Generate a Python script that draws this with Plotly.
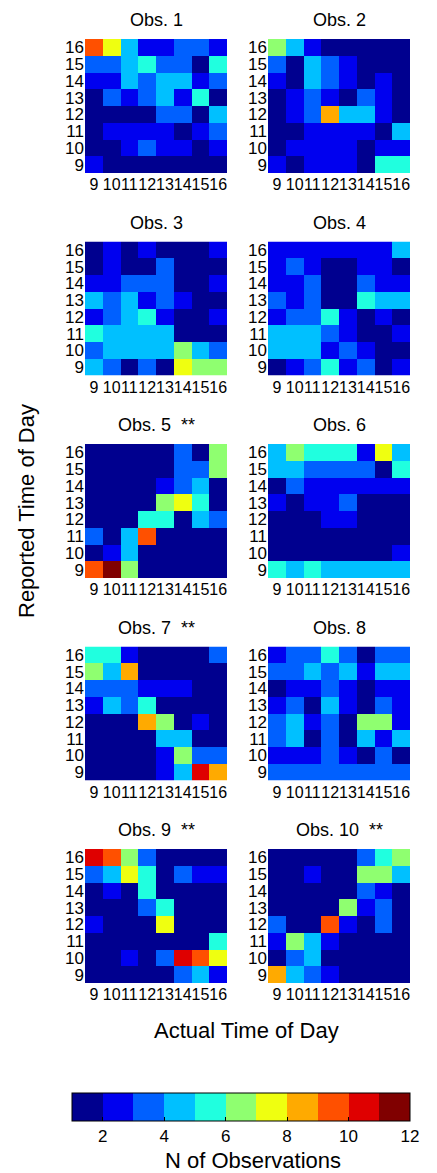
import numpy as np
import plotly.graph_objects as go

hours = [9, 10, 11, 12, 13, 14, 15, 16]
rows_top_down = [16, 15, 14, 13, 12, 11, 10, 9]
titles = ["Obs. 1", "Obs. 2", "Obs. 3", "Obs. 4", "Obs. 5  **", "Obs. 6",
          "Obs. 7  **", "Obs. 8", "Obs. 9  **", "Obs. 10  **"]

# counts; each list row = reported hour 16 (top) ... 9 (bottom); columns actual hour 9..16
obs1 = [[9, 7, 4, 2, 2, 3, 3, 2],
        [3, 3, 4, 5, 3, 3, 1, 5],
        [2, 2, 4, 3, 4, 4, 2, 3],
        [1, 3, 2, 3, 4, 2, 5, 1],
        [1, 1, 1, 1, 3, 3, 1, 4],
        [1, 2, 2, 2, 2, 1, 2, 3],
        [1, 1, 2, 3, 2, 2, 1, 2],
        [2, 1, 1, 1, 1, 1, 1, 1]]
obs2 = [[6, 4, 2, 1, 1, 1, 1, 1],
        [3, 1, 4, 3, 2, 1, 1, 1],
        [2, 1, 4, 3, 2, 1, 2, 1],
        [1, 2, 3, 2, 1, 3, 2, 1],
        [1, 2, 3, 8, 4, 4, 2, 1],
        [1, 1, 2, 2, 2, 2, 1, 4],
        [1, 2, 2, 2, 2, 1, 2, 2],
        [2, 1, 2, 2, 2, 1, 5, 5]]
obs3 = [[1, 2, 1, 2, 1, 1, 1, 2],
        [1, 2, 1, 1, 3, 1, 1, 1],
        [2, 2, 3, 3, 3, 1, 1, 2],
        [4, 3, 4, 2, 3, 2, 1, 1],
        [2, 3, 4, 5, 2, 1, 1, 2],
        [5, 4, 4, 4, 4, 1, 1, 1],
        [3, 4, 4, 4, 4, 6, 4, 3],
        [4, 3, 1, 3, 1, 7, 6, 6]]
obs4 = [[2, 2, 2, 2, 2, 2, 2, 4],
        [2, 3, 2, 1, 1, 2, 2, 1],
        [2, 2, 3, 1, 1, 3, 2, 2],
        [3, 2, 3, 1, 1, 5, 4, 4],
        [2, 3, 3, 5, 2, 1, 2, 1],
        [4, 4, 4, 3, 2, 1, 1, 2],
        [4, 4, 4, 2, 3, 2, 1, 1],
        [1, 2, 3, 5, 2, 3, 1, 2]]
obs5 = [[1, 1, 1, 1, 1, 3, 1, 6],
        [1, 1, 1, 1, 1, 3, 3, 6],
        [1, 1, 1, 1, 2, 3, 4, 1],
        [1, 1, 1, 1, 6, 7, 5, 1],
        [1, 1, 1, 5, 5, 1, 4, 3],
        [3, 1, 4, 9, 1, 1, 1, 1],
        [1, 2, 4, 1, 1, 1, 1, 1],
        [9, 11, 6, 1, 1, 1, 1, 1]]
obs6 = [[4, 6, 5, 5, 5, 2, 7, 4],
        [4, 4, 3, 3, 3, 3, 1, 5],
        [1, 3, 2, 2, 2, 2, 2, 2],
        [2, 1, 2, 2, 3, 1, 1, 1],
        [1, 1, 1, 2, 2, 1, 1, 1],
        [1, 1, 1, 1, 1, 1, 1, 1],
        [1, 1, 1, 1, 1, 1, 1, 2],
        [5, 4, 5, 4, 4, 4, 4, 4]]
obs7 = [[5, 5, 2, 1, 1, 1, 1, 3],
        [6, 4, 8, 1, 1, 1, 1, 1],
        [3, 3, 3, 2, 2, 2, 1, 1],
        [2, 4, 3, 5, 1, 1, 1, 1],
        [1, 1, 1, 8, 6, 1, 2, 1],
        [1, 1, 1, 1, 4, 4, 1, 1],
        [1, 1, 1, 1, 2, 6, 3, 3],
        [1, 1, 1, 1, 2, 4, 10, 8]]
obs8 = [[2, 3, 3, 5, 3, 1, 3, 3],
        [3, 3, 4, 3, 4, 2, 4, 4],
        [1, 2, 2, 3, 2, 1, 2, 2],
        [2, 3, 1, 4, 2, 1, 3, 2],
        [3, 4, 2, 3, 1, 6, 6, 2],
        [3, 4, 1, 3, 1, 4, 2, 4],
        [2, 2, 2, 3, 2, 1, 3, 1],
        [3, 3, 3, 3, 3, 3, 3, 3]]
obs9 = [[10, 9, 6, 3, 1, 1, 1, 1],
        [3, 4, 7, 5, 1, 3, 2, 2],
        [1, 2, 1, 5, 1, 1, 1, 1],
        [1, 1, 1, 3, 5, 1, 1, 1],
        [2, 1, 1, 1, 7, 1, 1, 1],
        [1, 1, 1, 1, 1, 1, 1, 5],
        [1, 1, 2, 1, 3, 10, 9, 7],
        [1, 1, 1, 1, 1, 3, 4, 2]]
obs10 = [[1, 1, 1, 1, 1, 3, 5, 6],
         [1, 1, 2, 1, 1, 6, 6, 4],
         [1, 1, 1, 1, 1, 3, 2, 1],
         [1, 1, 1, 1, 6, 2, 3, 1],
         [3, 1, 1, 9, 2, 1, 3, 1],
         [2, 6, 4, 2, 1, 1, 1, 1],
         [1, 3, 4, 1, 1, 1, 1, 1],
         [8, 4, 3, 2, 1, 1, 1, 1]]
panels = [obs1, obs2, obs3, obs4, obs5, obs6, obs7, obs8, obs9, obs10]

cbar_ticks = [2, 4, 6, 8, 10, 12]
band_colors = ["rgb(0,0,143)", "rgb(0,0,239)", "rgb(0,96,255)", "rgb(0,192,255)",
               "rgb(32,255,223)", "rgb(143,255,112)", "rgb(239,255,16)",
               "rgb(255,170,0)", "rgb(255,80,0)", "rgb(223,0,0)", "rgb(128,0,0)"]
ZMIN, ZMAX = 1, 12

# discrete colour scale
nb = len(band_colors)
cscale = []
for i, c in enumerate(band_colors):
    cscale.append([i / nb, c])
    cscale.append([(i + 1) / nb, c])

W, H = 437, 1173
FONT = "Liberation Sans, Arial, sans-serif"


def fx(px):
    return px / W


def fy(px):
    return 1 - px / H


col_x = [(85, 227), (268, 410)]
row_top = [39, 241.5, 444, 646.5, 849]
PH = 134

fig = go.Figure()
annotations = []
layout_axes = {}
for i, (data, title) in enumerate(zip(panels, titles)):
    r, c = divmod(i, 2)
    n = i + 1
    xa = "x" if n == 1 else f"x{n}"
    ya = "y" if n == 1 else f"y{n}"
    counts = np.array(data)
    fig.add_trace(go.Heatmap(
        z=counts + 0.5,  # place each count in the middle of its colour band
        customdata=counts,
        x=hours, y=rows_top_down,
        xaxis=xa, yaxis=ya,
        colorscale=cscale, zmin=ZMIN, zmax=ZMAX,
        showscale=(i == 0),
        hovertemplate="actual %{x}<br>reported %{y}<br>n=%{customdata}<extra></extra>",
        colorbar=dict(
            orientation="h", x=fx(241), xanchor="center",
            y=fy(1093), yanchor="top",
            len=338 / W, lenmode="fraction",
            thickness=28, thicknessmode="pixels",
            outlinewidth=1, outlinecolor="black",
            tickvals=cbar_ticks, ticks="inside", ticklen=4, tickcolor="black",
            tickfont=dict(family=FONT, size=17, color="black"),
            xpad=0, ypad=0,
        ),
    ))
    x0, x1 = col_x[c]
    top = row_top[r]
    kx = "xaxis" if n == 1 else f"xaxis{n}"
    ky = "yaxis" if n == 1 else f"yaxis{n}"
    layout_axes[kx] = dict(domain=[fx(x0), fx(x1)], anchor=ya, range=[8.5, 16.5],
                           tickvals=hours, ticks="", showgrid=False, zeroline=False,
                           showline=False, tickangle=0,
                           tickfont=dict(family=FONT, size=16, color="black"),
                           fixedrange=True)
    layout_axes[ky] = dict(domain=[fy(top + PH), fy(top)], anchor=xa, range=[8.5, 16.5],
                           tickvals=hours, ticks="", showgrid=False, zeroline=False,
                           showline=False, tickangle=0,
                           tickfont=dict(family=FONT, size=17, color="black"),
                           fixedrange=True)
    annotations.append(dict(text=title, x=fx((x0 + x1) / 2), y=fy(top - 19),
                            xref="paper", yref="paper", showarrow=False,
                            xanchor="center", yanchor="middle",
                            font=dict(family=FONT, size=18, color="black")))

annotations.append(dict(text="Reported Time of Day", x=fx(26), y=fy(511), xref="paper",
                        yref="paper", showarrow=False, textangle=-90,
                        xanchor="center", yanchor="middle",
                        font=dict(family=FONT, size=22, color="black")))
annotations.append(dict(text="Actual Time of Day", x=fx(247), y=fy(1030), xref="paper",
                        yref="paper", showarrow=False, xanchor="center", yanchor="middle",
                        font=dict(family=FONT, size=22, color="black")))
annotations.append(dict(text="N of Observations", x=fx(253), y=fy(1160), xref="paper",
                        yref="paper", showarrow=False, xanchor="center", yanchor="middle",
                        font=dict(family=FONT, size=22, color="black")))

fig.update_layout(
    width=W, height=H,
    margin=dict(l=0, r=0, t=0, b=0, autoexpand=False),
    paper_bgcolor="white", plot_bgcolor="white",
    annotations=annotations,
    font=dict(family=FONT, color="black"),
    **layout_axes,
)
fig.write_html("out.html")
